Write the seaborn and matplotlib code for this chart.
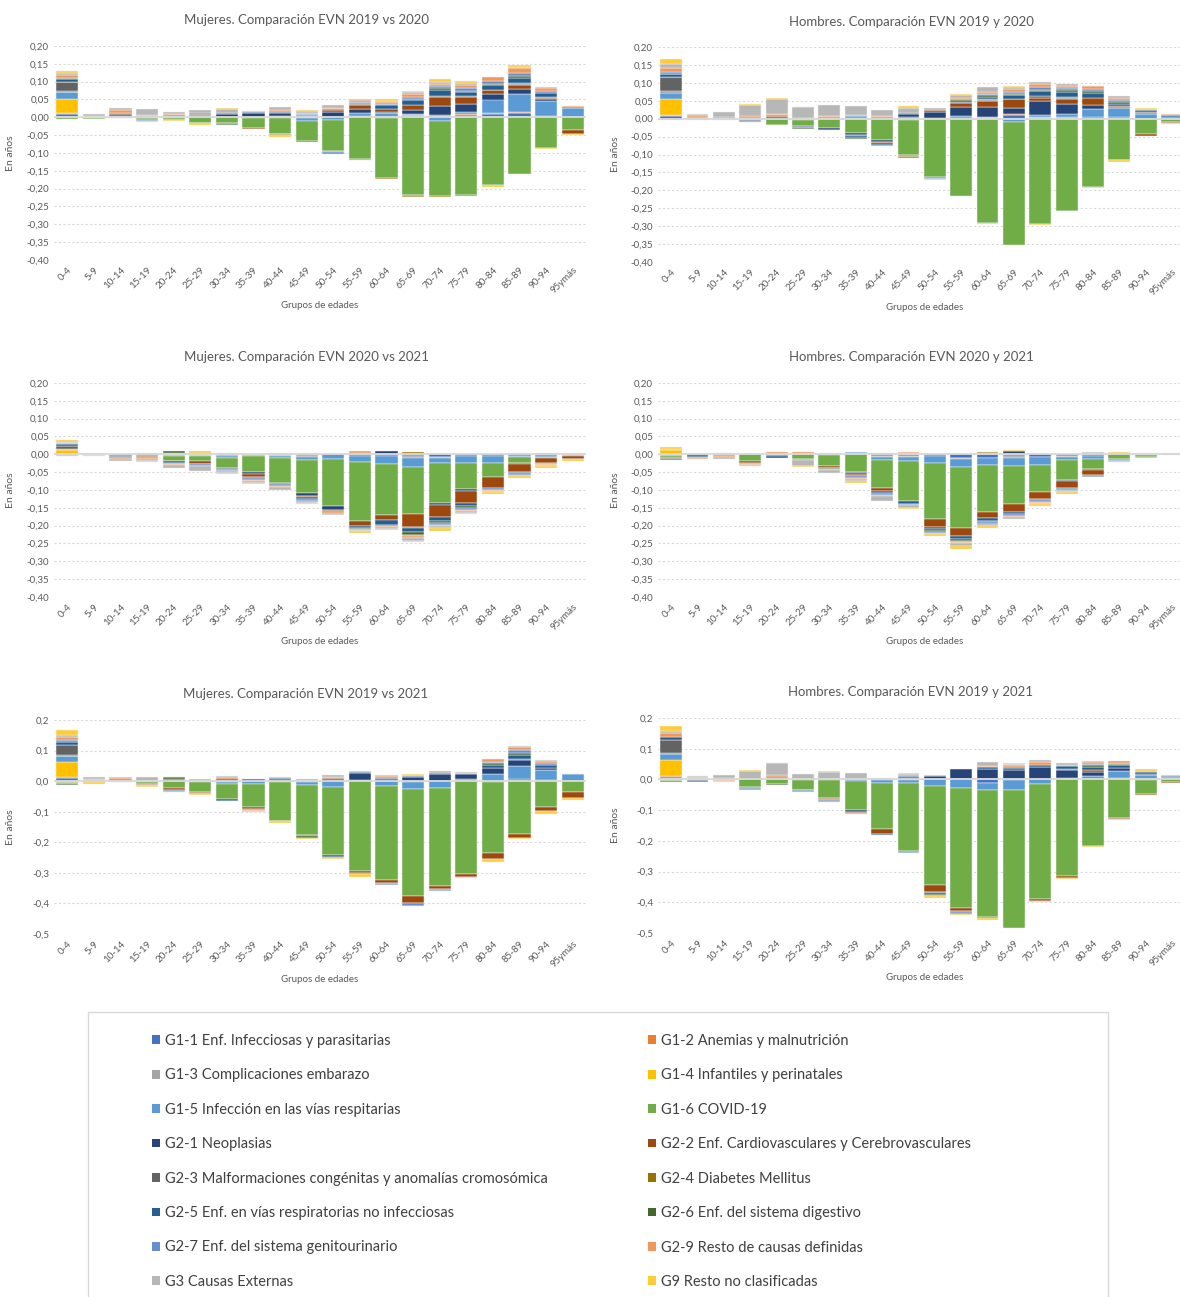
import numpy as np
import matplotlib
matplotlib.use("Agg")
import matplotlib.pyplot as plt
from matplotlib.patches import Rectangle, Patch
import seaborn as sns

# ---------------------------------------------------------------- categories
age_groups = ["0-4", "5-9", "10-14", "15-19", "20-24", "25-29", "30-34", "35-39",
              "40-44", "45-49", "50-54", "55-59", "60-64", "65-69", "70-74", "75-79",
              "80-84", "85-89", "90-94", "95ymás"]

cause_labels = [
    "G1-1 Enf. Infecciosas y parasitarias",
    "G1-2 Anemias y malnutrición",
    "G1-3 Complicaciones embarazo",
    "G1-4 Infantiles y perinatales",
    "G1-5 Infección en las vías respitarias",
    "G1-6 COVID-19",
    "G2-1 Neoplasias",
    "G2-2 Enf. Cardiovasculares y Cerebrovasculares",
    "G2-3 Malformaciones congénitas y anomalías cromosómica",
    "G2-4 Diabetes Mellitus",
    "G2-5 Enf. en vías respiratorias no infecciosas",
    "G2-6 Enf. del sistema digestivo",
    "G2-7 Enf. del sistema genitourinario",
    "G2-9 Resto de causas definidas",
    "G3 Causas Externas",
    "G9 Resto no clasificadas",
]

cause_colors = ["#4472C4", "#ED7D31", "#A5A5A5", "#FFC000", "#5B9BD5", "#70AD47",
                "#264478", "#9E480E", "#636363", "#997300", "#255E91", "#43682B",
                "#698ED0", "#F1975A", "#B7B7B7", "#FFCD33"]

# ------------------------------------------- Mujeres, EVN 2019 vs 2020 (años)
m1920_g11 = [.010, 0, .002, 0, 0, 0, 0, 0, .002, .001, .002, .002, .002, .003, .002, .006, .010, .012, .003, .002]
m1920_g12 = [.002, 0, .001, .002, -.001, 0, 0, -.003, 0, -.003, 0, .002, -.003, .003, .004, .004, .003, .002, .002, 0]
m1920_g13 = [.001, 0, 0, 0, 0, 0, 0, 0, 0, 0, 0, 0, 0, 0, 0, 0, 0, .002, 0, 0]
m1920_g14 = [.039, 0, 0, 0, 0, 0, 0, 0, -.001, 0, 0, 0, 0, 0, 0, 0, 0, 0, 0, 0]
m1920_g15 = [.018, -.003, 0, 0, .003, 0, 0, 0, .003, -.006, -.008, .008, .009, .004, -.010, .006, .037, .049, .040, .025]
m1920_g16 = [-.005, -.002, -.001, -.006, -.006, -.015, -.017, -.028, -.045, -.058, -.087, -.117, -.167, -.218, -.211, -.218, -.190, -.158, -.087, -.035]
m1920_g21 = [.002, 0, .002, 0, 0, .003, .010, .012, .006, .004, .014, .012, .005, .010, .025, .020, .016, .015, .007, 0]
m1920_g22 = [.002, 0, 0, -.001, -.001, .003, -.002, -.002, -.002, -.002, .004, .010, .008, .014, .025, .022, .010, .010, .003, -.012]
m1920_g23 = [.025, .002, .004, 0, 0, .003, 0, 0, 0, .002, 0, .002, 0, -.002, .004, .003, .002, .003, .002, 0]
m1920_g24 = [.001, 0, 0, 0, 0, 0, 0, 0, -.001, 0, -.002, -.002, -.003, -.004, -.003, -.003, 0, .002, 0, 0]
m1920_g25 = [.008, 0, .002, -.002, .003, 0, .002, .002, .004, 0, .003, .004, .010, .014, .018, .010, .012, .015, .010, .002]
m1920_g26 = [.001, 0, 0, -.002, 0, .002, -.002, 0, 0, 0, -.001, 0, 0, .004, .004, .004, .004, .005, 0, 0]
m1920_g27 = [.002, .001, .002, .002, 0, 0, 0, 0, 0, .003, -.005, .004, .003, .004, .005, .008, .007, .010, .006, 0]
m1920_g29 = [.008, .002, .007, .003, .002, -.002, 0, .003, .005, .002, .003, .004, .006, .009, .007, .007, .012, .013, .009, .002]
m1920_g3 = [.005, .004, .006, .017, .008, .010, .010, .002, .010, .006, .009, .003, .004, .005, .006, .007, 0, .004, .004, 0]
m1920_g9 = [.005, 0, -.002, -.002, -.002, -.005, .003, 0, -.006, .003, 0, -.002, .004, .005, .007, .004, -.005, .006, -.002, -.002]

# ------------------------------------------- Hombres, EVN 2019 y 2020 (años)
h1920_g11 = [.008, 0, 0, 0, 0, -.002, 0, .002, 0, 0, 0, .001, .002, .010, .002, .003, .004, .004, 0, .002]
h1920_g12 = [.002, 0, 0, 0, -.002, 0, .001, 0, 0, -.003, 0, 0, .002, .002, .002, .002, .002, .002, 0, 0]
h1920_g13 = [.001, 0, 0, 0, 0, 0, 0, 0, 0, 0, 0, 0, -.002, -.002, .002, 0, 0, 0, 0, 0]
h1920_g14 = [.043, 0, 0, 0, 0, 0, 0, 0, 0, 0, 0, 0, 0, 0, 0, 0, 0, 0, 0, 0]
h1920_g15 = [.018, -.002, 0, .003, 0, -.003, -.001, .005, .005, .005, .002, .006, .002, -.008, .005, .008, .020, .023, .012, .008]
h1920_g16 = [-.004, -.002, -.001, -.004, -.015, -.015, -.026, -.040, -.060, -.098, -.163, -.216, -.288, -.343, -.295, -.257, -.190, -.114, -.043, -.010]
h1920_g21 = [.002, .002, .002, -.002, .004, -.002, -.004, -.005, -.006, .009, .017, .026, .026, .018, .038, .028, .012, .004, .004, 0]
h1920_g22 = [.002, 0, 0, -.002, .003, -.003, .004, -.002, -.003, -.004, .004, .010, .018, .024, .008, .014, .020, .003, -.004, -.002]
h1920_g23 = [.040, .002, 0, 0, 0, 0, 0, 0, 0, 0, 0, 0, .002, .002, .005, .004, 0, 0, .004, 0]
h1920_g24 = [.001, 0, 0, 0, -.001, 0, 0, 0, 0, -.002, 0, 0, .002, 0, 0, .002, 0, -.002, 0, 0]
h1920_g25 = [.008, .002, 0, 0, .002, 0, -.002, -.008, -.004, .003, -.003, .004, .006, .010, .014, .014, .014, .006, .003, 0]
h1920_g26 = [.001, 0, 0, -.002, 0, -.003, 0, -.002, 0, -.003, 0, .006, .006, .004, .003, .005, .004, .004, 0, 0]
h1920_g27 = [.003, 0, .002, 0, 0, 0, 0, 0, -.003, 0, -.002, 0, .004, .004, .010, .006, .006, .005, .002, 0]
h1920_g29 = [.012, .004, 0, .005, .005, .002, .002, .003, .002, 0, .002, .004, .004, .008, .008, .004, .008, .007, .002, .002]
h1920_g3 = [.012, .002, .014, .030, .042, .030, .030, .025, .018, .014, .005, .008, .015, .006, .005, .008, .002, .004, 0, .002]
h1920_g9 = [.013, .002, -.004, .004, .003, .001, 0, 0, 0, .004, -.004, .004, -.004, .004, -.002, -.002, -.004, -.004, .004, -.002]

# ------------------------------------------- Mujeres, EVN 2020 vs 2021 (años)
m2021_g11 = [-.002, 0, 0, 0, 0, -.002, 0, 0, -.002, -.003, 0, -.004, -.004, -.006, -.008, -.006, -.006, -.004, -.002, 0]
m2021_g12 = [0, 0, 0, 0, 0, 0, 0, 0, 0, 0, 0, 0, 0, 0, 0, 0, 0, 0, 0, 0]
m2021_g13 = [-.002, 0, 0, 0, -.002, -.002, -.006, -.003, -.003, -.004, 0, 0, 0, -.003, -.002, 0, 0, 0, 0, 0]
m2021_g14 = [.012, 0, 0, 0, 0, 0, 0, 0, 0, 0, 0, 0, 0, 0, 0, 0, 0, 0, 0, 0]
m2021_g15 = [.002, -.001, -.002, 0, -.004, .002, -.004, -.003, -.006, -.010, -.012, -.018, -.022, -.026, -.015, -.018, -.017, -.004, -.006, -.002]
m2021_g16 = [-.002, -.002, 0, -.006, -.012, -.016, -.028, -.043, -.068, -.092, -.133, -.164, -.143, -.133, -.111, -.072, -.041, -.015, -.002, -.003]
m2021_g21 = [.002, 0, -.004, 0, .002, 0, -.004, -.007, 0, -.008, -.010, .005, .010, 0, -.006, -.007, 0, -.003, 0, 0]
m2021_g22 = [0, 0, 0, -.002, -.002, -.006, 0, -.007, -.003, -.003, -.003, -.016, -.016, -.035, -.033, -.033, -.030, -.024, -.015, -.007]
m2021_g23 = [.008, 0, 0, 0, 0, -.002, 0, 0, 0, 0, 0, 0, 0, -.004, 0, 0, 0, 0, 0, 0]
m2021_g24 = [0, 0, 0, 0, .002, 0, 0, 0, 0, 0, 0, 0, 0, .007, 0, 0, 0, 0, 0, 0]
m2021_g25 = [.004, 0, -.002, 0, -.003, 0, -.003, -.004, 0, -.005, -.004, -.004, -.012, -.012, -.013, -.010, 0, -.003, 0, 0]
m2021_g26 = [0, 0, 0, 0, .004, .002, 0, 0, 0, 0, 0, -.003, -.004, -.006, -.005, -.004, 0, 0, .003, 0]
m2021_g27 = [0, 0, 0, .003, -.004, -.004, -.003, -.004, -.006, -.005, 0, -.004, 0, -.004, -.005, -.006, -.005, -.004, -.003, 0]
m2021_g29 = [.003, .002, -.006, -.004, -.002, -.002, .003, -.003, -.004, .004, -.004, .003, -.004, -.006, -.004, -.004, -.004, -.004, -.003, -.002]
m2021_g3 = [.003, .002, -.004, -.008, -.008, -.012, -.004, -.005, -.008, -.006, -.004, -.003, -.004, -.007, -.005, -.004, -.003, .005, -.002, .004]
m2021_g9 = [.005, -.003, 0, -.001, 0, .004, -.004, -.004, .004, -.004, 0, -.004, -.004, -.005, -.007, -.004, -.006, -.005, -.004, -.004]

# ------------------------------------------- Hombres, EVN 2020 y 2021 (años)
h2021_g11 = [0, 0, 0, 0, 0, 0, 0, .003, -.004, -.005, -.006, -.009, -.009, -.006, -.007, -.004, -.006, 0, 0, 0]
h2021_g12 = [0, 0, 0, 0, 0, 0, 0, 0, 0, 0, 0, 0, 0, 0, 0, 0, 0, 0, 0, 0]
h2021_g13 = [-.003, 0, 0, 0, 0, 0, .004, 0, -.004, -.002, 0, -.004, 0, -.004, 0, -.003, 0, 0, -.002, 0]
h2021_g14 = [.013, 0, 0, 0, 0, 0, 0, 0, 0, 0, 0, 0, 0, 0, 0, 0, 0, 0, 0, 0]
h2021_g15 = [-.002, 0, 0, 0, -.002, 0, -.002, .004, -.008, -.013, -.017, -.022, -.022, -.022, -.023, -.008, -.008, 0, 0, 0]
h2021_g16 = [-.004, 0, -.003, -.020, 0, -.014, -.030, -.049, -.078, -.112, -.158, -.172, -.130, -.107, -.077, -.056, -.027, -.012, -.005, -.003]
h2021_g21 = [0, -.002, 0, 0, -.004, 0, 0, -.004, 0, 0, 0, 0, .005, .009, 0, -.003, -.003, .004, 0, 0]
h2021_g22 = [0, 0, 0, -.003, .002, .002, -.005, -.004, -.010, .002, -.023, -.023, -.017, -.023, -.017, -.019, -.014, -.004, 0, 0]
h2021_g23 = [-.004, 0, 0, 0, 0, 0, 0, 0, 0, 0, 0, 0, 0, 0, 0, 0, 0, 0, 0, 0]
h2021_g24 = [0, 0, 0, 0, 0, 0, 0, 0, 0, 0, 0, 0, .002, 0, 0, 0, 0, 0, 0, 0]
h2021_g25 = [0, -.006, 0, 0, -.003, 0, -.002, -.004, -.004, -.006, -.006, -.006, -.008, -.006, -.004, -.004, -.003, 0, 0, 0]
h2021_g26 = [-.002, 0, .004, 0, 0, 0, -.002, 0, .004, .002, -.006, -.006, -.004, 0, 0, -.003, .003, 0, 0, 0]
h2021_g27 = [0, -.002, 0, -.003, 0, -.002, 0, -.004, -.006, -.004, -.004, -.004, -.004, -.005, -.005, -.003, -.003, -.002, 0, 0]
h2021_g29 = [0, -.002, -.004, -.005, .004, .004, -.004, -.004, -.003, .003, 0, -.004, 0, -.004, -.003, 0, 0, 0, -.002, 0]
h2021_g3 = [.002, 0, -.005, -.003, 0, -.017, -.006, -.006, -.013, -.008, -.004, -.007, -.008, -.004, -.003, -.003, .004, -.004, .003, .003]
h2021_g9 = [.005, 0, 0, 0, 0, -.002, 0, -.004, 0, -.004, -.004, -.008, -.004, .003, -.005, -.004, 0, .002, 0, 0]

# ------------------------------------------- Mujeres, EVN 2019 vs 2021 (años)
m1921_g11 = [.010, 0, 0, 0, 0, 0, 0, 0, 0, -.002, 0, 0, 0, -.003, 0, 0, -.003, .006, .003, .002]
m1921_g12 = [.002, 0, 0, 0, 0, 0, 0, 0, 0, 0, 0, 0, 0, 0, 0, 0, 0, 0, 0, 0]
m1921_g13 = [-.002, 0, 0, 0, 0, -.002, -.003, 0, 0, 0, 0, 0, 0, 0, 0, 0, 0, 0, 0, 0]
m1921_g14 = [.051, 0, 0, 0, 0, 0, 0, 0, 0, 0, 0, 0, 0, 0, 0, 0, 0, 0, 0, 0]
m1921_g15 = [.018, 0, 0, -.003, 0, 0, -.006, -.008, -.004, -.012, -.018, .004, -.016, -.024, -.021, .007, .024, .043, .035, .020]
m1921_g16 = [-.004, -.004, -.002, -.006, -.024, -.033, -.050, -.075, -.125, -.163, -.223, -.295, -.308, -.350, -.322, -.304, -.232, -.172, -.085, -.035]
m1921_g21 = [.002, 0, .002, 0, .006, 0, .008, .006, .006, 0, .008, .023, .008, .014, .022, .015, .018, .021, .006, 0]
m1921_g22 = [.002, 0, -.002, -.002, -.004, -.004, 0, -.007, -.003, -.004, .003, -.006, -.008, -.022, -.009, -.008, -.020, -.014, -.013, -.021]
m1921_g23 = [.033, .003, 0, 0, 0, 0, 0, 0, 0, 0, 0, 0, 0, 0, 0, 0, 0, .004, 0, 0]
m1921_g24 = [-.002, 0, 0, 0, .002, 0, 0, 0, 0, 0, 0, -.004, -.004, 0, -.003, 0, 0, 0, 0, 0]
m1921_g25 = [.011, 0, 0, 0, -.003, 0, -.005, -.004, .004, 0, -.008, .002, .003, .004, .006, 0, .012, .013, .010, 0]
m1921_g26 = [-.003, 0, 0, -.002, .004, 0, 0, -.002, 0, -.004, 0, 0, 0, 0, 0, 0, .004, .005, 0, 0]
m1921_g27 = [.006, 0, 0, .002, -.003, -.002, 0, 0, 0, 0, -.003, 0, -.004, -.008, -.003, 0, .004, .009, .006, 0]
m1921_g29 = [.010, .005, .008, -.004, 0, .002, .005, -.002, 0, .002, .004, 0, .006, .002, 0, .004, .011, .011, .007, .003]
m1921_g3 = [.006, .006, .002, .012, -.003, .006, .004, .002, .005, .006, .005, .003, .002, -.003, .005, .004, 0, .003, .003, 0]
m1921_g9 = [.017, -.004, 0, -.002, .002, -.004, -.002, -.003, -.004, -.003, -.004, -.008, 0, .004, 0, -.005, -.008, -.002, -.008, -.005]

# ------------------------------------------- Hombres, EVN 2019 y 2021 (años)
h1921_g11 = [.008, 0, 0, 0, 0, 0, 0, 0, -.003, -.003, 0, 0, -.012, -.003, .002, 0, 0, .004, 0, 0]
h1921_g12 = [.002, 0, 0, 0, 0, 0, 0, 0, 0, 0, 0, 0, 0, 0, 0, 0, 0, 0, -.003, 0]
h1921_g13 = [-.002, 0, 0, 0, 0, 0, 0, 0, 0, 0, 0, 0, 0, 0, 0, 0, 0, 0, 0, 0]
h1921_g14 = [.052, 0, 0, 0, 0, 0, 0, 0, 0, 0, 0, 0, 0, 0, 0, 0, 0, 0, 0, 0]
h1921_g15 = [.021, -.002, 0, 0, 0, -.003, -.002, -.005, -.007, -.010, -.023, -.027, -.022, -.030, -.015, .004, .010, .024, .015, .008]
h1921_g16 = [-.004, 0, -.002, -.024, -.016, -.030, -.060, -.095, -.153, -.220, -.322, -.390, -.414, -.450, -.374, -.315, -.217, -.125, -.045, -.009]
h1921_g21 = [.002, -.004, .004, -.003, .006, 0, 0, -.006, 0, .008, .012, .033, .035, .030, .038, .028, .014, .010, .003, 0]
h1921_g22 = [.002, .002, 0, -.002, 0, -.002, -.003, -.004, -.015, -.004, -.020, -.012, -.003, 0, -.007, -.005, .006, -.005, -.004, -.002]
h1921_g23 = [.040, 0, 0, 0, 0, 0, 0, 0, 0, 0, 0, 0, 0, 0, 0, 0, 0, 0, 0, 0]
h1921_g24 = [0, .002, 0, 0, 0, 0, -.002, 0, 0, 0, 0, 0, 0, 0, 0, .002, 0, 0, 0, 0]
h1921_g25 = [.011, -.003, 0, -.002, .003, -.003, -.003, 0, -.002, .003, -.005, 0, .004, .006, .008, .010, .012, .010, .005, .003]
h1921_g26 = [-.003, 0, 0, 0, -.002, 0, 0, 0, 0, 0, -.006, -.004, 0, .004, 0, 0, .004, .002, 0, 0]
h1921_g27 = [0, 0, 0, -.002, 0, -.002, -.002, -.002, 0, -.004, -.004, -.004, 0, 0, 0, 0, .004, .003, .003, 0]
h1921_g29 = [.013, .004, -.002, 0, .006, .002, 0, 0, 0, 0, 0, 0, .004, .007, .009, .003, .006, .006, .003, 0]
h1921_g3 = [.008, .003, .012, .026, .037, .015, .025, .021, .005, .006, .004, 0, .014, .004, .005, .005, .003, 0, 0, .003]
h1921_g9 = [.016, 0, -.005, .004, .003, 0, .002, -.002, 0, .004, -.006, -.006, -.007, .004, -.004, -.004, -.003, -.003, .004, 0]

# ---------------------------------------------------------------- panel set-up
panels = [
    ("Mujeres. Comparación EVN 2019 vs 2020",
     [m1920_g11, m1920_g12, m1920_g13, m1920_g14, m1920_g15, m1920_g16, m1920_g21, m1920_g22,
      m1920_g23, m1920_g24, m1920_g25, m1920_g26, m1920_g27, m1920_g29, m1920_g3, m1920_g9]),
    ("Hombres. Comparación EVN 2019 y 2020",
     [h1920_g11, h1920_g12, h1920_g13, h1920_g14, h1920_g15, h1920_g16, h1920_g21, h1920_g22,
      h1920_g23, h1920_g24, h1920_g25, h1920_g26, h1920_g27, h1920_g29, h1920_g3, h1920_g9]),
    ("Mujeres. Comparación EVN 2020 vs 2021",
     [m2021_g11, m2021_g12, m2021_g13, m2021_g14, m2021_g15, m2021_g16, m2021_g21, m2021_g22,
      m2021_g23, m2021_g24, m2021_g25, m2021_g26, m2021_g27, m2021_g29, m2021_g3, m2021_g9]),
    ("Hombres. Comparación EVN 2020 y 2021",
     [h2021_g11, h2021_g12, h2021_g13, h2021_g14, h2021_g15, h2021_g16, h2021_g21, h2021_g22,
      h2021_g23, h2021_g24, h2021_g25, h2021_g26, h2021_g27, h2021_g29, h2021_g3, h2021_g9]),
    ("Mujeres. Comparación EVN 2019 vs 2021",
     [m1921_g11, m1921_g12, m1921_g13, m1921_g14, m1921_g15, m1921_g16, m1921_g21, m1921_g22,
      m1921_g23, m1921_g24, m1921_g25, m1921_g26, m1921_g27, m1921_g29, m1921_g3, m1921_g9]),
    ("Hombres. Comparación EVN 2019 y 2021",
     [h1921_g11, h1921_g12, h1921_g13, h1921_g14, h1921_g15, h1921_g16, h1921_g21, h1921_g22,
      h1921_g23, h1921_g24, h1921_g25, h1921_g26, h1921_g27, h1921_g29, h1921_g3, h1921_g9]),
]

for _, series in panels:
    assert all(len(s) == len(age_groups) for s in series)

# ---------------------------------------------------------------- style
sns.set_theme(style="white")
plt.rcParams["font.family"] = ["Lato", "DejaVu Sans"]

W, H = 1180, 1297
fig = plt.figure(figsize=(W / 100, H / 100), dpi=100)
TXT = "#595959"
GRID = "#D9D9D9"

# axes boxes in pixels: (left, top, right, bottom)
boxes = [
    (54, 46, 586, 260), (658, 47, 1180, 262),
    (54, 383, 586, 597), (658, 383, 1180, 597),
    (54, 720, 586, 934), (658, 718, 1180, 933),
]
title_pos = [(306, 20), (911, 22), (306, 357), (911, 357), (306, 694), (911, 692)]
xlabel_y = [305, 307, 642, 642, 979, 977]


def fmt_tick(v, decimals):
    if abs(v) < 1e-9:
        v = 0.0
    return f"{v:.{decimals}f}".replace(".", ",")


for k, (title, series) in enumerate(panels):
    l, t, r, b = boxes[k]
    ax = fig.add_axes([l / W, 1 - b / H, (r - l) / W, (b - t) / H])
    x = np.arange(len(age_groups))
    pos_base = np.zeros(len(age_groups))
    neg_base = np.zeros(len(age_groups))
    for vals, color, label in zip(series, cause_colors, cause_labels):
        v = np.asarray(vals, dtype=float)
        base = np.where(v >= 0, pos_base, neg_base)
        nz = v != 0
        ax.bar(x[nz], v[nz], bottom=base[nz], width=0.83, color=color,
               edgecolor="#F2F2F2", linewidth=0.35, label=label, zorder=2)
        pos_base += np.clip(v, 0, None)
        neg_base += np.clip(v, None, 0)

    if k < 4:
        ticks = np.round(np.arange(-0.40, 0.2001, 0.05), 2)
        dec = 2
        ax.set_ylim(-0.40, 0.20)
    else:
        ticks = np.round(np.arange(-0.5, 0.2001, 0.1), 1)
        dec = 1
        ax.set_ylim(-0.5, 0.2)
    ax.set_yticks(ticks)
    ax.set_yticklabels([fmt_tick(v, dec) for v in ticks])
    ax.set_xlim(-0.5, 19.5 if k % 2 == 0 else 19.3)
    ax.set_xticks(x)
    ax.set_xticklabels(age_groups, rotation=45, ha="right", rotation_mode="anchor")
    ax.tick_params(axis="both", length=0, colors=TXT, labelsize=7)
    ax.tick_params(axis="x", pad=4)
    ax.yaxis.grid(True, color=GRID, linestyle=(0, (2, 2)), linewidth=0.8, zorder=0)
    ax.xaxis.grid(False)
    ax.axhline(0, color=GRID, linewidth=1.3, zorder=3)
    sns.despine(ax=ax, left=True, bottom=True)
    ax.set_facecolor("none")

    ax.set_ylabel("En años", color=TXT, fontsize=7.5)
    ax.yaxis.set_label_coords(((15 if k % 2 == 0 else 620) - l) / (r - l), 0.5)
    ax.set_xlabel("Grupos de edades", color=TXT, fontsize=7)
    ax.xaxis.set_label_coords(((320 if k % 2 == 0 else 925) - l) / (r - l),
                              (b - xlabel_y[k]) / (b - t))
    ax.xaxis.label.set_va("center")

    tx, ty = title_pos[k]
    fig.text(tx / W, 1 - ty / H, title, ha="center", va="center", color=TXT, fontsize=9.5)

# ---------------------------------------------------------------- legend
fig.patches.append(Rectangle((88 / W, -0.01), (1108 - 88) / W, 1 - 1012 / H + 0.01,
                             transform=fig.transFigure, fill=False,
                             edgecolor=GRID, linewidth=1.0))
handles = [Patch(facecolor=c, edgecolor="none", label=lab)
           for c, lab in zip(cause_colors, cause_labels)]
for col, x_px in ((0, 152), (1, 648)):
    fig.legend(handles=handles[col::2], loc="upper left",
               bbox_to_anchor=(x_px / W, 1 - 1034 / H), frameon=False,
               fontsize=10.5, handlelength=0.55, handleheight=0.55,
               handletextpad=0.35, labelspacing=1.4, borderpad=0,
               borderaxespad=0, labelcolor="#404040")

fig.savefig("out.png", dpi=100)
